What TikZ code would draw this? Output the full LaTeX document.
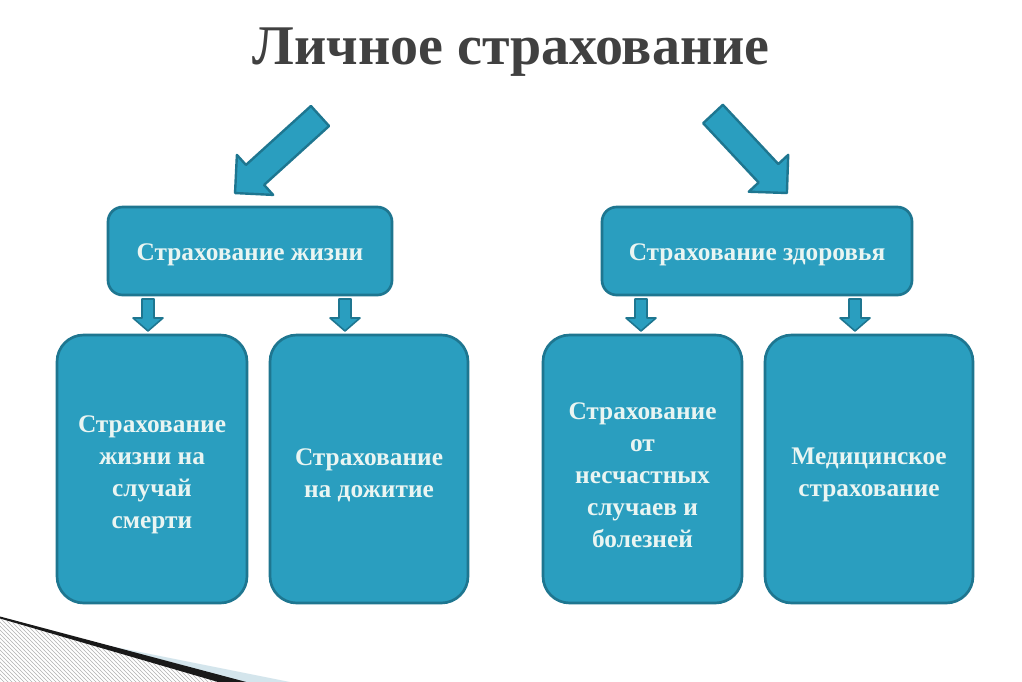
\documentclass[tikz,border=0pt]{standalone}
\usepackage{fontspec}
\setmainfont{Liberation Serif}
\usetikzlibrary{patterns}
\definecolor{boxfill}{RGB}{42,158,191}
\definecolor{boxedge}{RGB}{30,118,144}
\definecolor{boxtext}{RGB}{234,245,242}
\definecolor{titlegray}{RGB}{64,64,64}
\definecolor{bandblue}{RGB}{212,229,236}
\newcommand{\liftline}{\rule{0pt}{21.5pt}}
\begin{document}
\begin{tikzpicture}[x=0.75pt,y=-0.75pt,
  box/.style={draw=boxedge, line width=2pt, fill=boxfill, text=boxtext,
    font=\bfseries\fontsize{19}{24}\selectfont, align=center, inner sep=0pt},
  lowered/.style={execute at begin node={\rule{0pt}{#1}}},
  topbox/.style={box, rounded corners=11pt, minimum height=66pt, lowered=19pt},
  lowbox/.style={box, rounded corners=20pt, minimum height=201pt},
  blockarrow/.style={draw=boxedge, line width=1.8pt, fill=boxfill, line join=round},
  smallarrow/.style={draw=boxedge, line width=1.2pt, fill=boxfill, line join=round}]
\useasboundingbox (0,0) rectangle (1022,682);
\clip (0,0) rectangle (1022,682);
\fill[white] (0,0) rectangle (1022,682);

% title
\node[font=\bfseries\fontsize{42}{48}\selectfont, text=titlegray, anchor=base, inner sep=0pt] (title) at (511,64) {Личное страхование};

% top boxes
\node[topbox, minimum width=213pt] (life) at (250,251) {Страхование жизни};
\node[topbox, minimum width=232.5pt] (health) at (757,251) {Страхование здоровья};

% bottom boxes
\node[lowbox, minimum width=142.5pt] (death) at (152,469) {\liftline Страхование\\жизни на\\случай\\смерти};
\node[lowbox, minimum width=148.5pt] (endow) at (369,469) {\liftline Страхование\\на дожитие};
\node[lowbox, minimum width=149.25pt] (accid) at (642.5,469) {\liftline Страхование\\от\\несчастных\\случаев и\\болезней};
\node[lowbox, minimum width=156pt] (medic) at (869,469) {\liftline Медицинское\\страхование};

% big arrows from the title to the top boxes
\coordinate (lt) at (320,116);
\coordinate (rt) at (713,114);
\begin{scope}[shift={(lt)}, rotate=222.2]
  \path[blockarrow] (0,13.5) -- (87.7,13.5) -- (87.7,27) -- (114.7,0) -- (87.7,-27) -- (87.7,-13.5) -- (0,-13.5) -- cycle;
\end{scope}
\begin{scope}[shift={(rt)}, rotate=-46.9]
  \path[blockarrow] (0,13.5) -- (81.2,13.5) -- (81.2,27) -- (108.2,0) -- (81.2,-27) -- (81.2,-13.5) -- (0,-13.5) -- cycle;
\end{scope}

% small arrows from the top boxes to the lower boxes
\foreach \c in {148,345,641,855}{
  \path[smallarrow] (\c-6,299) -- (\c+6,299) -- (\c+6,318) -- (\c+15,318) -- (\c,331) -- (\c-15,318) -- (\c-6,318) -- cycle;
}

% bottom-left decoration
\fill[pattern=north west lines, pattern color=gray!60] (0,619) -- (228,684) -- (0,684) -- cycle;
\fill[bandblue] (110,646) -- (300,684) -- (240,684) -- cycle;
\fill[black!90] (0,616.5) -- (250,683) -- (225,684) -- (0,618.5) -- cycle;
\end{tikzpicture}
\end{document}
